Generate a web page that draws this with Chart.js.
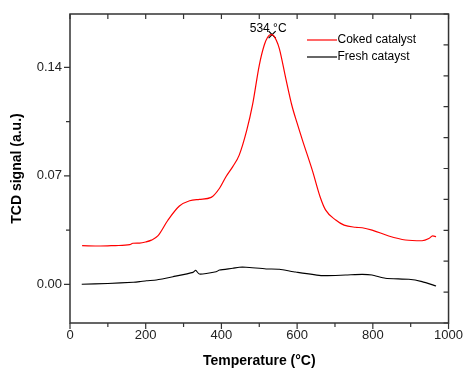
<!DOCTYPE html>
<html><head><meta charset="utf-8">
<script src="https://cdn.jsdelivr.net/npm/chart.js@4/dist/chart.umd.min.js"></script>
<style>html,body{margin:0;padding:0;background:#fff}#wrap{width:463px;height:370px}</style>
</head><body><div id="wrap"><canvas id="c" width="463" height="370"></canvas></div>
<script>
const cokedTemp = [32,80,120,158,166,184,200,215,232,259,289,316,342,373,395,412,430,447,467,482,500,513,522,530,538,545,553,570,586,600,614,640,662,675,702,724,754,772,798,842,886,930,948,958,967];
const cokedSignal = [0.0249,0.0247,0.0250,0.0256,0.0265,0.0266,0.0273,0.0285,0.0312,0.0415,0.0505,0.0539,0.0548,0.0561,0.0620,0.0694,0.0760,0.0834,0.0995,0.1156,0.1414,0.1543,0.1595,0.1612,0.1605,0.1575,0.1522,0.1330,0.1156,0.1040,0.0931,0.0737,0.0555,0.0480,0.0415,0.0382,0.0368,0.0365,0.0350,0.0312,0.0286,0.0281,0.0295,0.0312,0.0307];
const freshTemp = [31,100,167,184,202,228,272,325,332,342,386,395,430,447,465,518,553,596,667,728,772,798,833,895,930,967];
const freshSignal = [0.0000,0.0005,0.0013,0.0017,0.0023,0.0028,0.0049,0.0077,0.0090,0.0066,0.0081,0.0092,0.0103,0.0110,0.0110,0.0099,0.0097,0.0079,0.0056,0.0060,0.0064,0.0060,0.0039,0.0032,0.0017,-0.0011];
const peakTemp = [534];
const peakSignal = [0.1612];
const peakLabel = '534 °C';
const seriesNames = ['Coked catalyst','Fresh catayst'];
const xTitle = 'Temperature (°C)';
const yTitle = 'TCD signal (a.u.)';
const xTickLabels = [0,200,400,600,800,1000];
const yTickLabels = [0.00,0.07,0.14];

const FONT = "'Liberation Sans Narrow','Liberation Sans',sans-serif";
const AX = '#333';

const toPts = (xs, ys) => xs.map((x,i)=>({x, y: ys[i]}));

const frame = {
  id:'frame',
  afterDraw(chart){
    const ctx = chart.ctx, a = chart.chartArea;
    const sx = chart.scales.x, sy = chart.scales.y, sx2 = chart.scales.x2, sy2 = chart.scales.y2;
    ctx.save();
    ctx.strokeStyle = AX; ctx.lineWidth = 1.5;
    ctx.strokeRect(a.left, a.top, a.right-a.left, a.bottom-a.top);
    ctx.lineWidth = 1.2;
    ctx.beginPath();
    sx.ticks.forEach(t=>{const p=sx.getPixelForValue(t.value); const L = (t.value%200===0)?6:4; ctx.moveTo(p,a.bottom); ctx.lineTo(p,a.bottom+L);});
    sy.ticks.forEach(t=>{const p=sy.getPixelForValue(t.value); const major = Math.abs(Math.round(t.value/0.07)*0.07 - t.value)<1e-6; const L = major?6:4; ctx.moveTo(a.left,p); ctx.lineTo(a.left-L,p);});
    sx2.ticks.forEach(t=>{const p=sx2.getPixelForValue(t.value); ctx.moveTo(p,a.top); ctx.lineTo(p,a.top+5);});
    sy2.ticks.forEach(t=>{const p=sy2.getPixelForValue(t.value); ctx.moveTo(a.right,p); ctx.lineTo(a.right-5,p);});
    ctx.stroke();
    // legend
    const lx = a.left + 237, ly = a.top + 26;
    ctx.font = "12px " + FONT; ctx.textBaseline='middle'; ctx.fillStyle='#000';
    [['#ff0000',0],['#000000',17]].forEach(([c,dy],i)=>{
      ctx.strokeStyle=c; ctx.lineWidth=1.2; ctx.beginPath(); ctx.moveTo(lx,ly+dy); ctx.lineTo(lx+30,ly+dy); ctx.stroke();
      ctx.fillText(seriesNames[i], lx+30.5, ly+dy);
    });
    // peak label
    const px = sx.getPixelForValue(peakTemp[0]), py = sy.getPixelForValue(peakSignal[0]);
    ctx.textAlign='center'; ctx.textBaseline='alphabetic';
    ctx.fillText(peakLabel, px-4, py-3);
    ctx.restore();
  }
};

new Chart(document.getElementById('c'), {
  type:'line',
  data:{datasets:[
    {label:seriesNames[0], data:toPts(cokedTemp,cokedSignal), borderColor:'#ff0000', borderWidth:1.2, pointRadius:0, cubicInterpolationMode:'monotone', xAxisID:'x', yAxisID:'y'},
    {label:seriesNames[1], data:toPts(freshTemp,freshSignal), borderColor:'#000000', borderWidth:1.1, pointRadius:0, tension:0.2, xAxisID:'x', yAxisID:'y'},
    {label:'peak', data:toPts(peakTemp,peakSignal), showLine:false, pointStyle:'crossRot', pointRadius:5, borderColor:'#000', borderWidth:1.2, xAxisID:'x', yAxisID:'y'}
  ]},
  options:{
    responsive:false, animation:false, events:[],
    layout:{padding:{top:14,right:13,left:0,bottom:0}},
    plugins:{legend:{display:false}, tooltip:{enabled:false}},
    scales:{
      x:{type:'linear', position:'bottom', min:0, max:1000,
        ticks:{stepSize:100, autoSkip:false, maxRotation:0, padding:0, color:'#222', font:{family:FONT,size:13},
          callback:(v)=> xTickLabels.includes(v)? String(v):''},
        grid:{display:true, drawOnChartArea:false, drawTicks:true, tickLength:5, color:'rgba(0,0,0,0)'},
        border:{display:false},
        title:{display:true, text:xTitle, color:'#000', font:{family:FONT,size:14,weight:'bold'}, padding:{top:0,bottom:0}},
        afterFit(s){s.height=47;}
      },
      x2:{type:'linear', position:'top', min:0, max:1000, ticks:{stepSize:100, display:false}, grid:{display:false}, border:{display:false}, afterFit(s){s.height=0;}},
      y:{type:'linear', position:'left', min:-0.025, max:0.1745,
        afterBuildTicks(s){ s.ticks=[0,0.035,0.07,0.105,0.14].map(v=>({value:v})); },
        ticks:{padding:2, color:'#222', font:{family:FONT,size:13},
          callback:(v)=>{const f=yTickLabels.find(t=>Math.abs(t-v)<1e-6); return f===undefined?'':f.toFixed(2);}},
        grid:{display:true, drawOnChartArea:false, tickLength:6, color:'rgba(0,0,0,0)'},
        border:{display:false},
        title:{display:true, text:yTitle, color:'#000', font:{family:FONT,size:14,weight:'bold'}, padding:{top:9,bottom:0}},
        afterFit(s){s.width=70;}
      },
      y2:{type:'linear', position:'right', min:0, max:10, ticks:{stepSize:1, display:false}, grid:{display:false}, border:{display:false}, afterFit(s){s.width=0;}}
    }
  },
  plugins:[frame]
});
</script></body></html>
